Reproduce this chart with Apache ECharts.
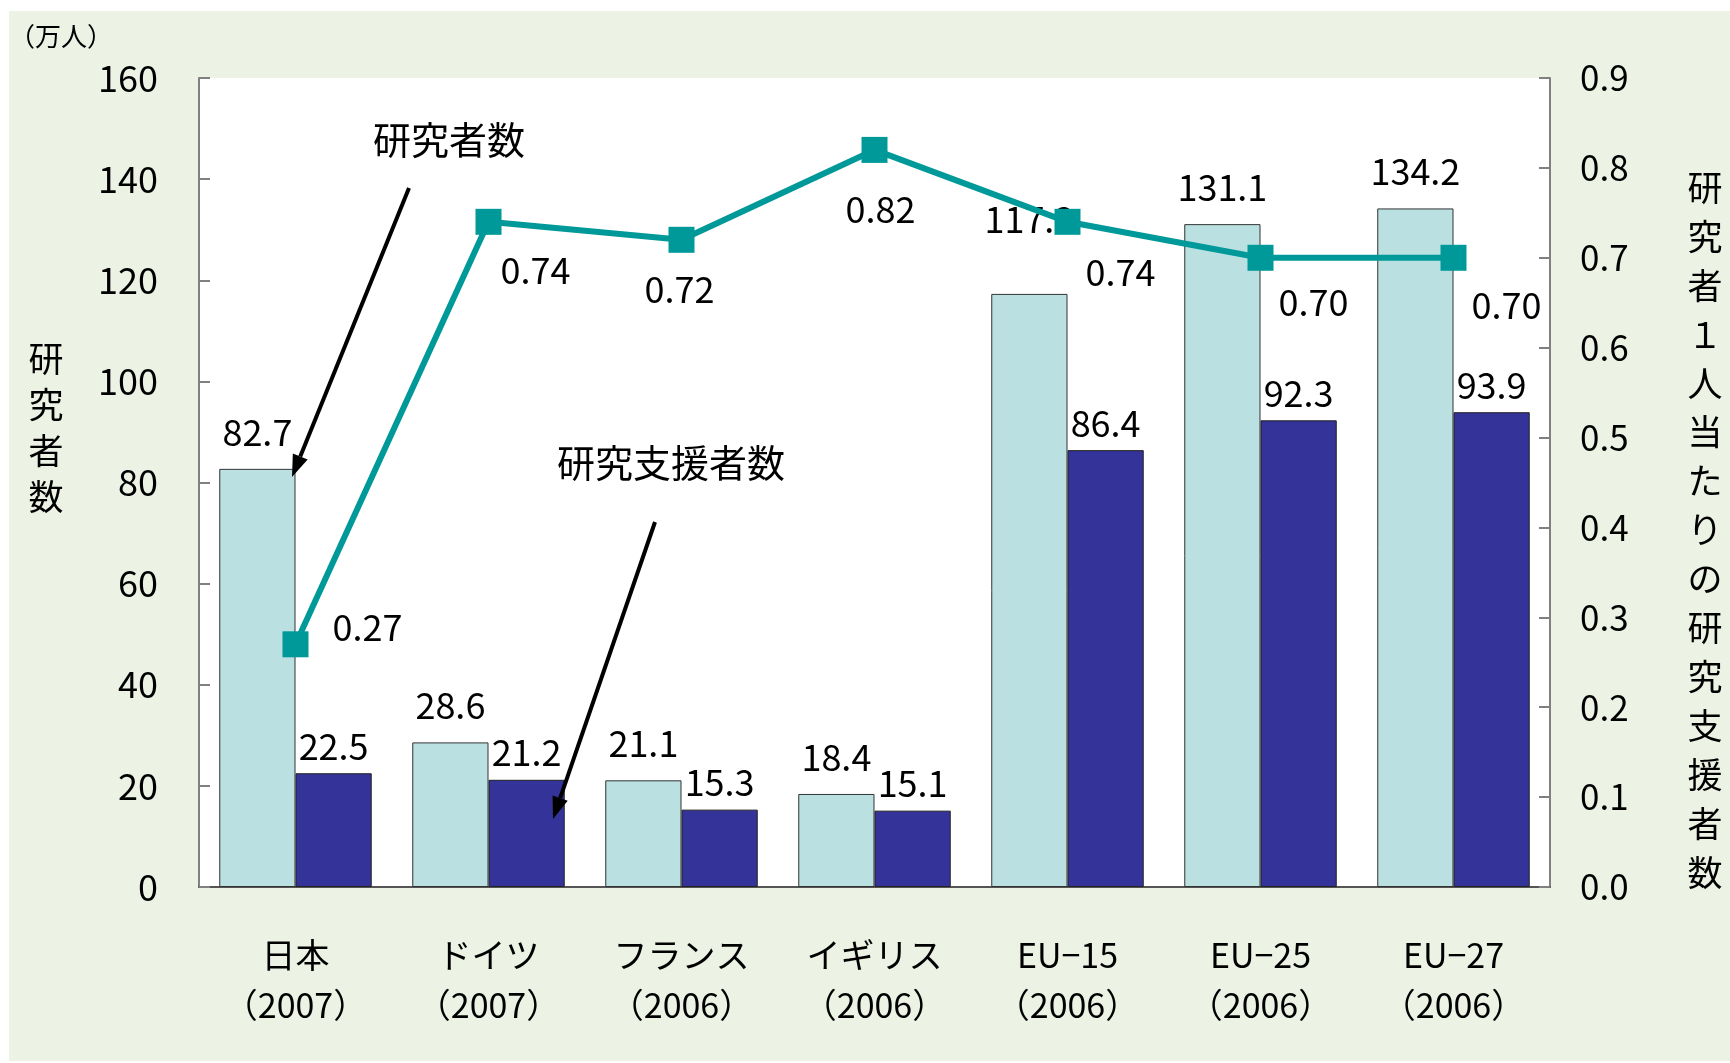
<!DOCTYPE html>
<html lang="ja">
<head>
	<meta charset="UTF-8">
	<title>研究者数と研究支援者数</title>
	<style>
	body, div {
		margin: 0;
		padding: 0;
	}
	#echart {
		width: 1730px;
		height: 1063px;
		background: #fff;
	}
	</style>
</head>
<body>
	<div id="echart"></div>

	<script src="https://cdn.jsdelivr.net/npm/echarts@6/dist/echarts.min.js"></script>

	<script>
// データ
var categories = ['日本', 'ドイツ', 'フランス', 'イギリス', 'EU−15', 'EU−25', 'EU−27'];
var years = ['2007', '2007', '2006', '2006', '2006', '2006', '2006'];
var researchers = [82.7, 28.6, 21.1, 18.4, 117.3, 131.1, 134.2];
var supportStaff = [22.5, 21.2, 15.3, 15.1, 86.4, 92.3, 93.9];
var supportPerResearcher = [0.27, 0.74, 0.72, 0.82, 0.74, 0.70, 0.70];
var leftTicks = { min: 0, max: 160, interval: 20 };
var rightTicks = { min: 0, max: 0.9, interval: 0.1 };

var FONT = '"Noto Sans CJK JP", sans-serif';
var myEchart = echarts.init(document.getElementById('echart'));

// 折れ線ラベルの位置（マーカー中心からのずれ）
var lineLabelOffsets = [[72, -17], [47, 48], [-2, 50], [6, 59], [53, 50], [53, 45], [53, 48]];

var researcherData = researchers.map(function (v, i) {
	var item = { value: v };
	if (i === 4) {
		// EU-15 のラベルは少し上
		item.label = { offset: [0, -38] };
	}
	return item;
});

var ratioData = supportPerResearcher.map(function (v, i) {
	return { value: v, label: { offset: lineLabelOffsets[i] } };
});

// 矢印
function arrow(x1, y1, x2, y2) {
	var a = Math.atan2(y2 - y1, x2 - x1);
	var len = 22, w = 8;
	var bx = x2 - len * Math.cos(a), by = y2 - len * Math.sin(a);
	var px = -Math.sin(a) * w, py = Math.cos(a) * w;
	return [
		{ type: 'line', z: 100, shape: { x1: x1, y1: y1, x2: bx, y2: by }, style: { stroke: '#000', lineWidth: 4 } },
		{ type: 'polygon', z: 100, shape: { points: [[x2, y2], [bx + px, by + py], [bx - px, by - py]] }, style: { fill: '#000' } }
	];
}

function vertical(text) {
	return text.split('').join('\n');
}

option = {
	animation: false,
	textStyle: { fontFamily: FONT },
	grid: {
		show: true,
		left: 199,
		right: 180,
		top: 78,
		bottom: 176,
		borderWidth: 0,
		backgroundColor: '#fff',
		containLabel: false
	},
	graphic: [
		{ type: 'rect', z: -10, shape: { x: 9, y: 11, width: 1721, height: 1050 }, style: { fill: '#ECF2E4' } },
		{ type: 'text', x: 61, y: 36, style: { text: '（万人）', font: '26px ' + FONT, fill: '#000', align: 'center', verticalAlign: 'middle' } },
		{ type: 'text', x: 46, y: 428, style: { text: vertical('研究者数'), font: '35px ' + FONT, lineHeight: 46, fill: '#000', align: 'center', verticalAlign: 'middle' } },
		{ type: 'text', x: 1705, y: 530, style: { text: vertical('研究者１人当たりの研究支援者数'), font: '35px ' + FONT, lineHeight: 48.9, fill: '#000', align: 'center', verticalAlign: 'middle' } },
		{ type: 'text', x: 449, y: 140, z: 100, style: { text: '研究者数', font: '38px ' + FONT, fill: '#000', align: 'center', verticalAlign: 'middle' } },
		{ type: 'text', x: 671, y: 463, z: 100, style: { text: '研究支援者数', font: '38px ' + FONT, fill: '#000', align: 'center', verticalAlign: 'middle' } }
	].concat(arrow(409, 188, 292, 477), arrow(655, 522, 553, 819)),
	xAxis: [
		{
			type: 'category',
			data: categories.map(function (c, i) { return c + '\n（' + years[i] + '）'; }),
			axisLine: { lineStyle: { color: '#555', width: 2 } },
			axisTick: { show: false },
			axisLabel: {
				margin: 43,
				fontSize: 34,
				lineHeight: 50,
				color: '#000',
				interval: 0
			}
		}
	],
	yAxis: [
		{
			type: 'value',
			min: leftTicks.min,
			max: leftTicks.max,
			interval: leftTicks.interval,
			splitLine: { show: false },
			axisLine: { show: true, lineStyle: { color: '#808080', width: 2 } },
			axisTick: { show: true, inside: true, length: 11, lineStyle: { color: '#808080', width: 2 } },
			axisLabel: { margin: 41, fontSize: 36, color: '#000' }
		},
		{
			type: 'value',
			min: rightTicks.min,
			max: rightTicks.max,
			interval: rightTicks.interval,
			splitLine: { show: false },
			axisLine: { show: true, lineStyle: { color: '#808080', width: 2 } },
			axisTick: { show: true, inside: true, length: 11, lineStyle: { color: '#808080', width: 2 } },
			axisLabel: {
				margin: 30,
				fontSize: 35,
				color: '#000',
				formatter: function (v) { return v.toFixed(1); }
			}
		}
	],
	series: [
		{
			name: '研究者数',
			type: 'bar',
			barGap: '0%',
			barCategoryGap: '21%',
			itemStyle: { color: '#BAE0E2', borderColor: '#333', borderWidth: 1 },
			label: { show: true, position: 'top', distance: 19, fontSize: 36, color: '#000', formatter: function (p) { return p.value.toFixed(1); } },
			data: researcherData
		},
		{
			name: '研究支援者数',
			type: 'bar',
			itemStyle: { color: '#333399', borderColor: '#222', borderWidth: 1 },
			label: { show: true, position: 'top', distance: 9, fontSize: 36, color: '#000', formatter: function (p) { return p.value.toFixed(1); } },
			data: supportStaff
		},
		{
			name: '研究者1人当たりの研究支援者数',
			type: 'line',
			yAxisIndex: 1,
			z: 5,
			symbol: 'rect',
			symbolSize: 26,
			itemStyle: { color: '#009999' },
			lineStyle: { color: '#009999', width: 6 },
			label: {
				show: true,
				position: 'inside',
				fontSize: 36,
				color: '#000',
				formatter: function (p) { return p.value.toFixed(2); }
			},
			data: ratioData
		}
	]
};

myEchart.setOption(option);
	</script>
</body>
</html>
